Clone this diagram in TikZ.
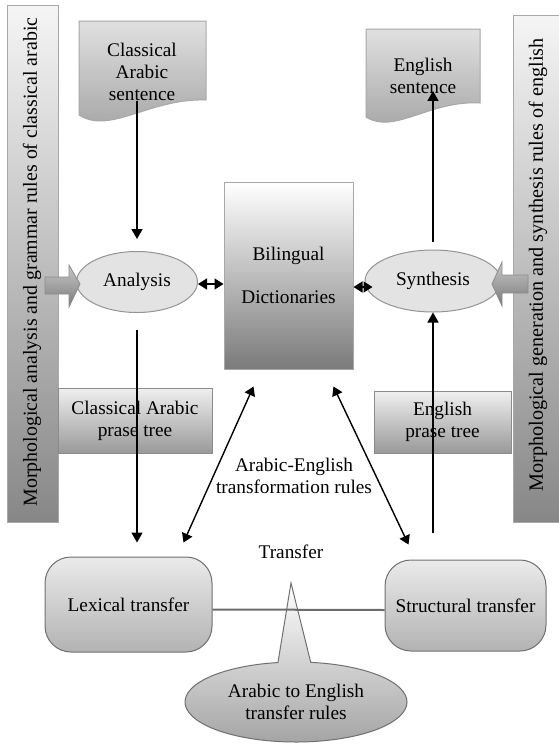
\documentclass[tikz,border=0pt]{standalone}
\usepackage{fontspec}
\setmainfont{Liberation Serif}
\usetikzlibrary{shapes.geometric,shapes.callouts,arrows.meta,calc}
\definecolor{edge}{HTML}{A8A8A8}
\definecolor{darkedge}{HTML}{707070}
\begin{document}
\begin{tikzpicture}[x=1pt,y=-1pt,
  txt/.style={font=\fontsize{19.3}{22}\selectfont, align=center, inner sep=0pt},
  arr/.style={line width=1.4pt, -{Triangle[length=10pt,width=11pt]}},
  darr/.style={line width=1.4pt, {Triangle[length=9pt,width=11pt]}-{Triangle[length=9pt,width=11pt]}},
  barbox/.style={draw=edge, line width=1pt, top color=white!96!black, bottom color=black!47, inner sep=0pt},
  docshape/.style={draw=edge, line width=1pt, top color=black!12, bottom color=black!36},
  dictbox/.style={txt, draw=edge, line width=1pt, top color=white, bottom color=black!52},
  treebox/.style={txt, draw=black!45, line width=1pt, top color=white!94!black, bottom color=black!40},
  ovalbox/.style={txt, ellipse, draw=black!42, line width=1pt, fill=black!11},
  roundbox/.style={txt, rounded corners=26pt, draw=darkedge, line width=1pt, top color=black!8, bottom color=black!30},
  blockarrow/.style={draw=black!45, line width=0.8pt, top color=black!22, bottom color=black!52},
]
\useasboundingbox (0,0) rectangle (558,748);

% side bars
\node[barbox, minimum width=51pt, minimum height=517pt] (lbar) at (32.5,263.5) {};
\node[txt, rotate=90, font=\fontsize{19.9}{24}\selectfont] (ltext) at (32,262) {Morphological analysis and grammar rules of classical arabic};
\node[barbox, minimum width=51pt, minimum height=507pt] (rbar) at (538.5,268.5) {};
\node[txt, rotate=90, font=\fontsize{20.2}{24}\selectfont] (rtext) at (538,265) {Morphological generation and synthesis rules of english};

% documents
\path[docshape] (79,21) -- (206,21) -- (206,100) .. controls (150,98) and (110,135) .. (79,115) -- cycle;
\node[txt] (csent) at (142,72) {Classical\\Arabic\\sentence};
\path[docshape] (366,29) -- (480,29) -- (480,103) .. controls (430,100) and (394,135) .. (366,117) -- cycle;
\node[txt] (esent) at (423,76) {English\\sentence};

% main nodes
\node[ovalbox, minimum width=121pt, minimum height=61pt] (analysis) at (137,282) {Analysis};
\node[ovalbox, minimum width=136pt, minimum height=62pt] (synth) at (433,281) {Synthesis};
\node[dictbox, minimum width=129pt, minimum height=187pt] (dict) at (288.5,275.5) {Bilingual\\[21pt]Dictionaries};
\node[treebox, minimum width=154pt, minimum height=65pt] (catree) at (135,420.5) {Classical Arabic\\prase tree};
\node[treebox, minimum width=137pt, minimum height=62pt] (etree) at (442.5,422) {English\\prase tree};
\node[txt] (trules) at (294,476) {Arabic-English\\transformation rules};
\node[txt] (transfer) at (291,552) {Transfer};
\node[roundbox, minimum width=167pt, minimum height=95pt] (lex) at (128.5,604.5) {Lexical transfer};
\node[roundbox, minimum width=161pt, minimum height=91pt] (struct) at (465.5,605.5) {Structural transfer};

% block arrows (on top of the ovals)
\path[blockarrow] (45,277) -- (69,277) -- (69,265) -- (80,284) -- (69,307) -- (69,294) -- (45,294) -- cycle;
\path[blockarrow] (528,275) -- (502,275) -- (502,262) -- (492,284) -- (502,306) -- (502,293) -- (528,293) -- cycle;

% callout
\coordinate (ptr) at (291,583);
\node[txt, ellipse callout, callout absolute pointer={(ptr)}, callout pointer arc=17,
      draw=darkedge, line width=1pt, top color=white, bottom color=black!36,
      minimum width=222pt, minimum height=80pt] (tr) at (296,702) {Arabic to English\\transfer rules};
\draw[black!58, line width=2pt] ([yshift=-5pt]lex.east) -- ([yshift=-4.5pt]struct.west);

% arrows
\draw[arr, shorten >=12pt] (analysis.north |- csent.south) -- (analysis.north);
\draw[arr, shorten <=17pt, shorten >=14pt] (analysis.south) -- (analysis.south |- lex.north);
\draw[arr, shorten <=8pt, shorten >=-3pt] (synth.north) -- (synth.north |- esent.south);
\draw[arr, shorten <=27pt] (synth.south |- struct.north) -- (synth.south);
\draw[darr] ([yshift=-2pt]analysis.east) -- ([yshift=-8.5pt]dict.west);
\draw[darr] ([yshift=-11.5pt]dict.east) -- ([yshift=-6pt,xshift=8pt]synth.west);
\draw[darr] ($(dict.south west)+(30,17)$) -- ($(lex.north east)+(-29,-14)$);
\draw[darr] ($(dict.south east)+(-20,17)$) -- ($(struct.north west)+(24,-15)$);
\end{tikzpicture}
\end{document}
